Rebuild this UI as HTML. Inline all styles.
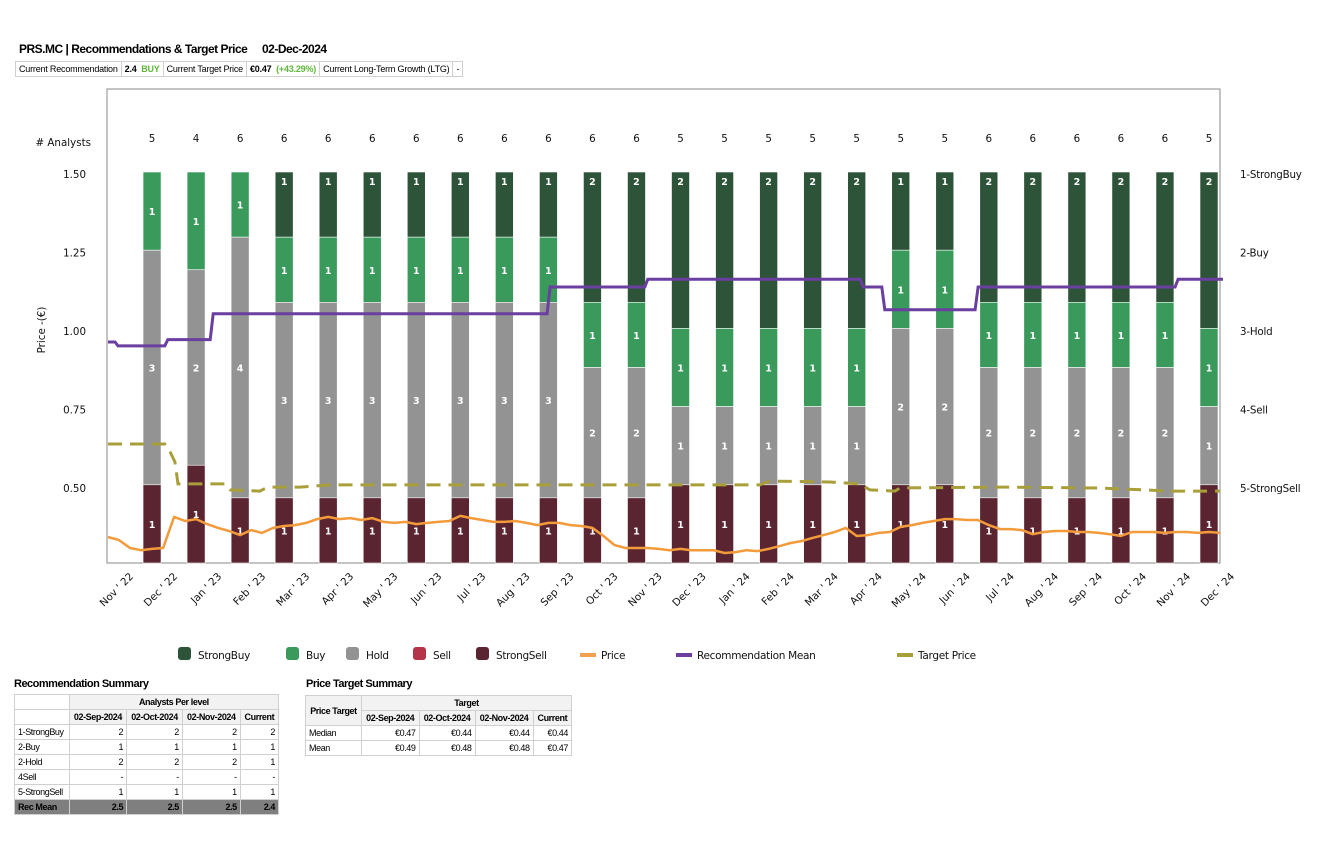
<!DOCTYPE html>
<html><head><meta charset="utf-8">
<style>
body{margin:0;background:#fff;width:1329px;height:848px;position:relative;overflow:hidden;font-family:"Liberation Sans",sans-serif;}
.abs{position:absolute;}
table{border-collapse:collapse;font-size:9px;letter-spacing:-0.4px;}
td,th{border:1px solid #d0d0d0;padding:0 3px;height:14px;white-space:nowrap;}
th{font-weight:bold;background:#f2f2f2;text-align:center;}
td.n{text-align:right;}
.title{font-weight:bold;font-size:12px;letter-spacing:-0.5px;}
</style></head><body>
<div class="abs title" style="left:19px;top:42px">PRS.MC | Recommendations &amp; Target Price</div>
<div class="abs title" style="left:262px;top:42px">02-Dec-2024</div>
<table class="abs" style="left:15px;top:61px;letter-spacing:-0.2px">
<tr><td style="height:13px">Current Recommendation</td><td><b>2.4</b> &nbsp;<b style="color:#5fb73b">BUY</b></td><td>Current Target Price</td><td><b>€0.47</b> &nbsp;<b style="color:#5fb73b">(+43.29%)</b></td><td>Current Long-Term Growth (LTG)</td><td>-</td></tr>
</table>

<svg class="abs" style="left:0;top:0" width="1329" height="848" id="chart"></svg>

<div class="abs title" style="left:14px;top:678px;font-size:11px">Recommendation Summary</div>
<table class="abs" style="left:14px;top:694px;width:265px">
<tr><th style="background:#fff"></th><th colspan="4">Analysts Per level</th></tr>
<tr><th style="background:#fff"></th><th>02-Sep-2024</th><th>02-Oct-2024</th><th>02-Nov-2024</th><th>Current</th></tr>
<tr><td>1-StrongBuy</td><td class="n">2</td><td class="n">2</td><td class="n">2</td><td class="n">2</td></tr>
<tr><td>2-Buy</td><td class="n">1</td><td class="n">1</td><td class="n">1</td><td class="n">1</td></tr>
<tr><td>2-Hold</td><td class="n">2</td><td class="n">2</td><td class="n">2</td><td class="n">1</td></tr>
<tr><td>4Sell</td><td class="n">-</td><td class="n">-</td><td class="n">-</td><td class="n">-</td></tr>
<tr><td>5-StrongSell</td><td class="n">1</td><td class="n">1</td><td class="n">1</td><td class="n">1</td></tr>
<tr style="background:#7f7f7f;font-weight:bold"><td>Rec Mean</td><td class="n">2.5</td><td class="n">2.5</td><td class="n">2.5</td><td class="n">2.4</td></tr>
</table>
<div class="abs title" style="left:306px;top:678px;font-size:11px">Price Target Summary</div>
<table class="abs" style="left:305px;top:695px;width:267px">
<tr><th rowspan="2">Price Target</th><th colspan="4">Target</th></tr>
<tr><th>02-Sep-2024</th><th>02-Oct-2024</th><th>02-Nov-2024</th><th>Current</th></tr>
<tr><td>Median</td><td class="n">€0.47</td><td class="n">€0.44</td><td class="n">€0.44</td><td class="n">€0.44</td></tr>
<tr><td>Mean</td><td class="n">€0.49</td><td class="n">€0.48</td><td class="n">€0.48</td><td class="n">€0.47</td></tr>
</table>

<script>
const months = ["Nov ' 22","Dec ' 22","Jan ' 23","Feb ' 23","Mar ' 23","Apr ' 23","May ' 23","Jun ' 23","Jul ' 23","Aug ' 23","Sep ' 23","Oct ' 23","Nov ' 23","Dec ' 23","Jan ' 24","Feb ' 24","Mar ' 24","Apr ' 24","May ' 24","Jun ' 24","Jul ' 24","Aug ' 24","Sep ' 24","Oct ' 24","Nov ' 24","Dec ' 24"];
const priceTicks = [1.50,1.25,1.00,0.75,0.50];
const recLabels = ["1-StrongBuy","2-Buy","3-Hold","4-Sell","5-StrongSell"];
const strongBuy = [0,0,0,1,1,1,1,1,1,1,2,2,2,2,2,2,2,1,1,2,2,2,2,2,2];
const buy       = [1,1,1,1,1,1,1,1,1,1,1,1,1,1,1,1,1,1,1,1,1,1,1,1,1];
const hold      = [3,2,4,3,3,3,3,3,3,3,2,2,1,1,1,1,1,2,2,2,2,2,2,2,1];
const sell      = [0,0,0,0,0,0,0,0,0,0,0,0,0,0,0,0,0,0,0,0,0,0,0,0,0];
const strongSell= [1,1,1,1,1,1,1,1,1,1,1,1,1,1,1,1,1,1,1,1,1,1,1,1,1];
const price = [.344,.334,.309,.302,.306,.309,.408,.395,.401,.385,.373,.363,.350,.366,.357,.373,.379,.382,.389,.401,.408,.401,.404,.398,.404,.392,.389,.392,.385,.389,.392,.395,.411,.404,.398,.392,.392,.395,.389,.382,.389,.389,.382,.379,.373,.347,.318,.309,.309,.309,.306,.302,.306,.302,.302,.302,.293,.296,.302,.299,.306,.315,.325,.331,.341,.350,.360,.373,.347,.350,.357,.360,.376,.382,.389,.395,.401,.401,.398,.398,.382,.369,.369,.366,.353,.360,.363,.363,.360,.360,.357,.353,.347,.360,.360,.360,.357,.360,.360,.357,.360,.357];
const targetT = [0,1.29,1.41,1.52,1.59,2.66,2.77,3.45,3.63,4.36,5.04,14.8,15.03,16.39,17.07,17.3,17.87,17.98,20.26,22.53,24.12,25.25];
const targetP = [.640,.640,.615,.583,.513,.513,.494,.490,.503,.503,.510,.510,.522,.519,.513,.494,.490,.500,.503,.500,.490,.490];
const recT = [0,0.16,1.29,2.32,9.97,12.19,17.08,17.57,19.69,24.23,25.25];
const recV = [3.14,3.19,3.11,2.78,2.44,2.34,2.44,2.73,2.44,2.34,2.34];

const NS="http://www.w3.org/2000/svg";
const svg=document.getElementById('chart');
const L=107,R=1220,T=89,B=563;
const xT=t=>108+t*44.04;
const yP=p=>174+(1.5-p)*314;
const yR=r=>174+(r-1)*78.5;
function mk(tag,attrs,parent){const e=document.createElementNS(NS,tag);for(const k in attrs)e.setAttribute(k,attrs[k]);(parent||svg).appendChild(e);return e;}
const F='"DejaVu Sans","Liberation Sans",sans-serif';
const FS=10.3;

const frame=mk('rect',{x:L,y:T,width:R-L,height:B-T,fill:'none',stroke:'#888','stroke-width':1});



const colors=['#2d5339','#3a9a5c','#939393','#b5344a','#5a2530'];
const series=[strongBuy,buy,hold,sell,strongSell];
const barTop=172,barH=B-barTop;
for(let i=0;i<strongBuy.length;i++){
  const tot=series.reduce((a,s)=>a+s[i],0);
  const cx=xT(i+1);
  let y=barTop;
  const g=mk('g',{});
  
  
  series.forEach((s,k)=>{
    if(!s[i])return;
    const h=barH*s[i]/tot;
    const r=mk('rect',{x:cx-9,y:y,width:18,height:h,fill:colors[k],stroke:'#fff','stroke-width':0.6},g);
    
    
    const tx=mk('text',{x:cx,y:(k===0?y+13:y+h/2+4),'text-anchor':'middle','font-size':9.5,'font-weight':'bold',fill:'#fff','font-family':F},g);
    tx.textContent=s[i];
    y+=h;
  });
  const tl=mk('text',{x:cx,y:142,'text-anchor':'middle','font-size':FS,fill:'#111','font-family':F});
  
  
  tl.textContent=tot;
}
const al=mk('text',{x:91,y:146,'text-anchor':'end','font-size':FS,fill:'#111','font-family':F});


al.textContent='# Analysts';
priceTicks.forEach(p=>{
  const t=mk('text',{x:86,y:yP(p)+4,'text-anchor':'end','font-size':FS,fill:'#111','font-family':F});
  
  
  t.textContent=p.toFixed(2);
});
recLabels.forEach((r,i)=>{
  const t=mk('text',{x:1240,y:yR(i+1)+4,'font-size':FS,fill:'#111','font-family':F,'letter-spacing':'-0.2'});
  
  
  t.textContent=r;
});
const yt=mk('text',{x:0,y:0,transform:'translate(45,330) rotate(-90)','text-anchor':'middle','font-size':FS,fill:'#111','font-family':F});


yt.textContent='Price -(€)';
months.forEach((m,i)=>{
  const x=xT(i)+26,y=577;
  const t=mk('text',{x:x,y:y,transform:`rotate(-45 ${x} ${y})`,'text-anchor':'end','font-size':FS,fill:'#111','font-family':F});
  
  
  t.textContent=m;
});
let d='';
targetT.forEach((t,i)=>{d+=(i?'L':'M')+xT(t).toFixed(1)+' '+yP(targetP[i]).toFixed(1);});
const tp=mk('path',{d:d,fill:'none',stroke:'#a89e3a','stroke-width':3,'stroke-dasharray':'14 8'});


d='';
price.forEach((p,i)=>{d+=(i?'L':'M')+xT(i*0.25).toFixed(1)+' '+yP(p).toFixed(1);});
const pl=mk('path',{d:d,fill:'none',stroke:'#f39a3b','stroke-width':2.5,'stroke-linejoin':'round'});


d='';
recT.forEach((t,i)=>{
  const x=xT(t).toFixed(1),y=yR(recV[i]).toFixed(1);
  if(i===0)d+='M'+Math.max(L,x)+' '+y;
  else d+='L'+x+' '+yR(recV[i-1]).toFixed(1)+'L'+(+x+3)+' '+y;
});
const rm=mk('path',{d:d,fill:'none',stroke:'#6a3fa0','stroke-width':3});


const legend=[['StrongBuy',colors[0],178,'sq'],['Buy',colors[1],286,'sq'],['Hold',colors[2],346,'sq'],['Sell',colors[3],413,'sq'],['StrongSell',colors[4],476,'sq'],['Price','#f3a04f',580,'ln'],['Recommendation Mean','#6a3fa0',676,'ln'],['Target Price','#a89e3a',897,'ln']];
legend.forEach(([n,c,x,ty])=>{
  const g=mk('g',{});
  
  
  if(ty==='sq')mk('rect',{x:x,y:647,width:13,height:13,rx:3,fill:c},g);
  else mk('rect',{x:x,y:653,width:16,height:4,fill:c},g);
  const t=mk('text',{x:x+(ty==='sq'?20:21),y:659,'font-size':10.5,fill:'#111','font-family':F,'letter-spacing':'-0.3'},g);
  t.textContent=n;
});
</script>
</body></html>
